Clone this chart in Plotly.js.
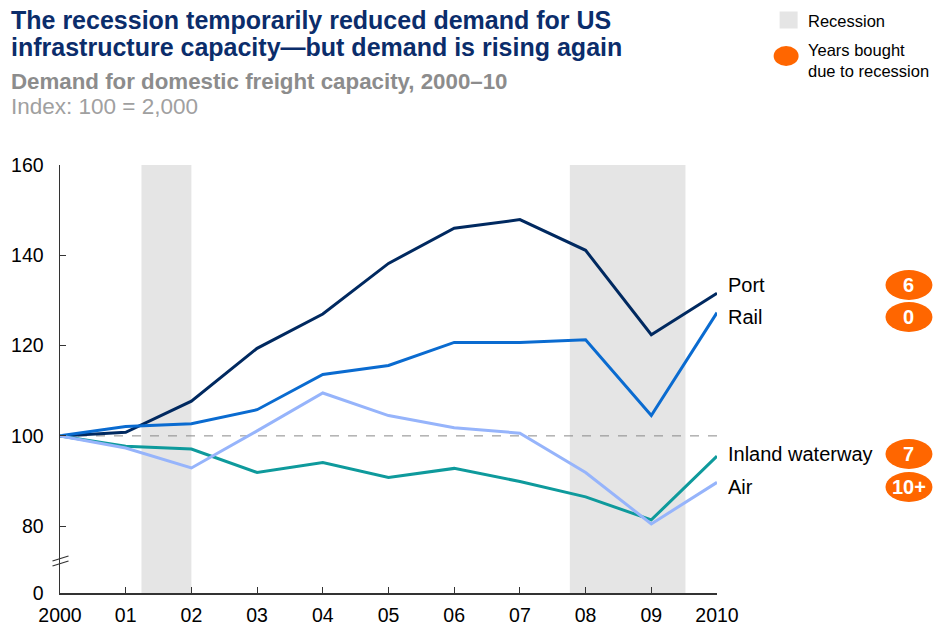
<!DOCTYPE html>
<html><head><meta charset="utf-8">
<script src="https://cdn.plot.ly/plotly-3.0.1.min.js"></script>
<style>body{margin:0;background:#fff}#c{width:936px;height:628px}</style>
</head><body><div id="c"></div>
<script>
const years = [2000,2001,2002,2003,2004,2005,2006,2007,2008,2009,2010];
const tickLabels = ["2000","01","02","03","04","05","06","07","08","09","2010"];
const port = [100,100.8,107.7,119.4,127.0,138.2,146.0,147.9,141.1,122.4,131.6];
const rail = [100,102.1,102.7,105.8,113.6,115.6,120.7,120.7,121.3,104.5,127.3];
const inland = [100,97.7,97.1,91.9,94.1,90.8,92.8,89.9,86.5,81.4,95.5];
const air = [100,97.3,92.9,101.1,109.5,104.5,101.8,100.6,91.9,80.5,89.7];
const seriesNames = ["Port","Rail","Inland waterway","Air"];
const yearsBought = ["6","0","7","10+"];
const recessions = [[2001.24,2002.0],[2007.76,2009.52]];
const yTickVals = [65.2,80,100,120,140,160];
const yTickText = ["0","80","100","120","140","160"];
const titleLines = ["The recession temporarily reduced demand for US","infrastructure capacity—but demand is rising again"];

const colors = {Port:"#002960", Rail:"#0a6bd0", "Inland waterway":"#0e9a9c", Air:"#96b4fb"};
const L=59.5, R=717.3, T=165, B=593;
const px = p => (p-L)/(R-L);
const py = p => (B-p)/(B-T);
const font = "Liberation Sans, Arial, sans-serif";

const data = [port, rail, inland, air];
const traces = seriesNames.map((n,i)=>({
  x: years, y: data[i], name: n, type:'scatter', mode:'lines',
  line:{color:colors[n], width:3}, hoverinfo:'skip', showlegend:false
}));

const shapes = [];
recessions.forEach(r=>shapes.push({type:'rect',xref:'x',yref:'paper',x0:r[0],x1:r[1],y0:0,y1:1,fillcolor:'#e5e5e5',line:{width:0},layer:'below'}));
shapes.push({type:'line',xref:'x',yref:'y',x0:2000,x1:2010,y0:100,y1:100,line:{color:'#888',width:1,dash:'dash'},layer:'below'});
// axis break marks
shapes.push({type:'line',xref:'paper',yref:'paper',x0:px(52),x1:px(68),y0:py(561),y1:py(556),line:{color:'#333',width:1.2}});
shapes.push({type:'line',xref:'paper',yref:'paper',x0:px(52),x1:px(68),y0:py(566),y1:py(561),line:{color:'#333',width:1.2}});
// legend swatches
shapes.push({type:'rect',xref:'paper',yref:'paper',x0:px(780),x1:px(798),y0:py(28.5),y1:py(11.5),fillcolor:'#e5e5e5',line:{width:0}});
shapes.push({type:'circle',xref:'paper',yref:'paper',x0:px(774),x1:px(799),y0:py(66),y1:py(46),fillcolor:'#ff6600',line:{width:0}});

const labelY = [285,317,454,487];
const annotations = [
  {xref:'paper',yref:'paper',x:px(8),y:py(20),xanchor:'left',yanchor:'middle',text:'<b>'+titleLines[0]+'</b>',showarrow:false,font:{family:font,size:25,color:'#0b2d6b'}},
  {xref:'paper',yref:'paper',x:px(8),y:py(47),xanchor:'left',yanchor:'middle',text:'<b>'+titleLines[1]+'</b>',showarrow:false,font:{family:font,size:25,color:'#0b2d6b'}},
  {xref:'paper',yref:'paper',x:px(8),y:py(81),xanchor:'left',yanchor:'middle',text:'<b>Demand for domestic freight capacity, 2000–10</b>',showarrow:false,font:{family:font,size:22.3,color:'#8c8c8c'}},
  {xref:'paper',yref:'paper',x:px(8),y:py(107),xanchor:'left',yanchor:'middle',text:'Index: 100 = 2,000',showarrow:false,font:{family:font,size:22.5,color:'#a0a0a0'}},
  {xref:'paper',yref:'paper',x:px(806),y:py(21),xanchor:'left',yanchor:'middle',text:'Recession',showarrow:false,font:{family:font,size:16.5,color:'#000'}},
  {xref:'paper',yref:'paper',x:px(806),y:py(60),xanchor:'left',yanchor:'middle',text:'Years bought<br>due to recession',align:'left',showarrow:false,font:{family:font,size:16.5,color:'#000'}}
];
seriesNames.forEach((n,i)=>{
  annotations.push({xref:'paper',yref:'paper',x:px(726),y:py(labelY[i]),xanchor:'left',yanchor:'middle',text:n,showarrow:false,font:{family:font,size:20,color:'#000'}});
  shapes.push({type:'circle',xref:'paper',yref:'paper',x0:px(886),x1:px(933),y0:py(labelY[i]+15),y1:py(labelY[i]-15),fillcolor:'#ff6600',line:{width:0}});
  annotations.push({xref:'paper',yref:'paper',x:px(909.5),y:py(labelY[i]),xanchor:'center',yanchor:'middle',text:'<b>'+yearsBought[i]+'</b>',showarrow:false,font:{family:font,size:20,color:'#fff'}});
});

const layout = {
  width:936, height:628,
  margin:{l:L, r:936-R, t:T, b:628-B, pad:0},
  paper_bgcolor:'#fff', plot_bgcolor:'rgba(0,0,0,0)',
  xaxis:{range:[2000,2010], tickvals:years, ticktext:tickLabels, showgrid:false, zeroline:false,
    showline:true, linecolor:'#333', linewidth:1.5, ticks:'inside', ticklen:6, tickcolor:'#333',
    tickfont:{family:font,size:19.5,color:'#000'}, ticklabelstandoff:4, fixedrange:true},
  yaxis:{range:[65.2,160], tickvals:yTickVals, ticktext:yTickText, showgrid:false, zeroline:false,
    showline:true, linecolor:'#333', linewidth:1.5, ticks:'inside', ticklen:6, tickcolor:'#333',
    tickfont:{family:font,size:19.5,color:'#000'}, ticklabelstandoff:11, fixedrange:true},
  shapes:shapes, annotations:annotations, showlegend:false
};
Plotly.newPlot('c', traces, layout, {displayModeBar:false, staticPlot:true});
</script></body></html>
